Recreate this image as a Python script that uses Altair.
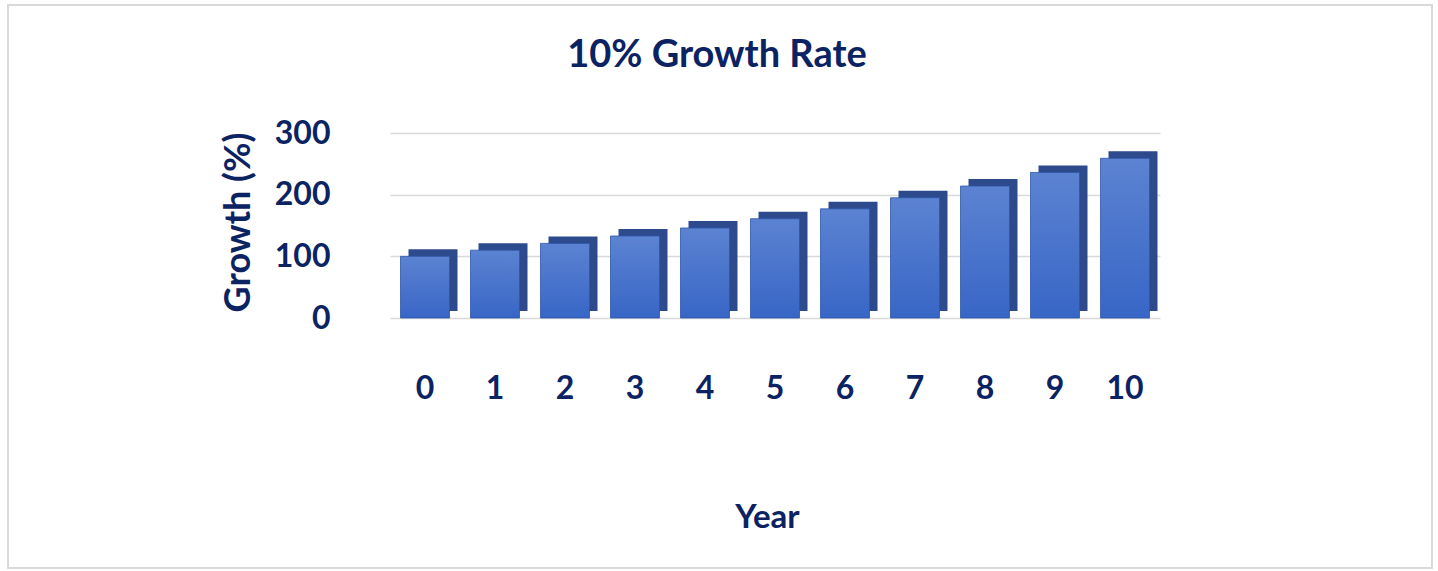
import altair as alt
import pandas as pd

years = ["0", "1", "2", "3", "4", "5", "6", "7", "8", "9", "10"]
growth = [100, 110, 121, 133, 146, 161, 177, 195, 214, 236, 259]

df = pd.DataFrame({"Year": years, "Growth": growth})

NAVY = "#0B2363"
FONT = "Lato"

x_enc = alt.X(
    "Year:O",
    sort=years,
    scale=alt.Scale(paddingInner=0.3, paddingOuter=0.15),
    axis=alt.Axis(
        title="Year", labelAngle=0, labelPadding=55, ticks=False, domain=False,
        labelFontSize=32, labelFont=FONT, labelFontWeight="bold", labelColor=NAVY,
        titleFontSize=33, titleFont=FONT, titleFontWeight="bold", titleColor=NAVY,
        titleY=199, titleX=377, titleBaseline="middle",
    ),
)
y_enc = alt.Y(
    "Growth:Q",
    scale=alt.Scale(domain=[0, 300]),
    axis=alt.Axis(
        title="Growth (%)", values=[0, 100, 200, 300], ticks=False, domain=False,
        labelPadding=60, labelFontSize=32, labelFont=FONT, labelFontWeight="bold",
        labelColor=NAVY, labelBaseline="middle",
        titleFontSize=36, titleFont=FONT, titleFontWeight="bold", titleColor=NAVY,
        titleX=-152, titleY=89, titleAngle=-90, titleAlign="center", titleBaseline="middle",
        grid=True, gridColor="#D9D9D9", gridWidth=1.5,
    ),
)

base = alt.Chart(df)

side = base.mark_bar(color="#2C4A8C", xOffset=8, x2Offset=8, yOffset=-7, y2Offset=-7).encode(
    x=x_enc, y=y_enc
)
front = base.mark_bar(
    color=alt.Gradient(
        gradient="linear",
        stops=[alt.GradientStop(color="#5C83D2", offset=0),
               alt.GradientStop(color="#3866C6", offset=1)],
        x1=0, x2=0, y1=0, y2=1,
    ),
    stroke="#2F55A8", strokeWidth=0.8,
).encode(x=x_enc, y=y_enc)

border = base.mark_rect(fill=None, stroke="#D9D9D9", strokeWidth=1.5).encode(
    x=alt.value(-382), x2=alt.value(1042), y=alt.value(-128), y2=alt.value(435)
)

chart = alt.layer(border, side, front).properties(
    width=770,
    height=185,
    title=alt.TitleParams(
        "10% Growth Rate", fontSize=38, font=FONT, fontWeight="bold", color=NAVY,
        anchor="middle", dx=-58, offset=-71,
    ),
    autosize=alt.AutoSizeParams(type="none"),
    padding={"left": 390, "top": 133, "right": 278, "bottom": 253},
    background="white",
).configure_view(stroke=None)

chart.save("out.html", embed_options={"renderer": "svg", "actions": False})
